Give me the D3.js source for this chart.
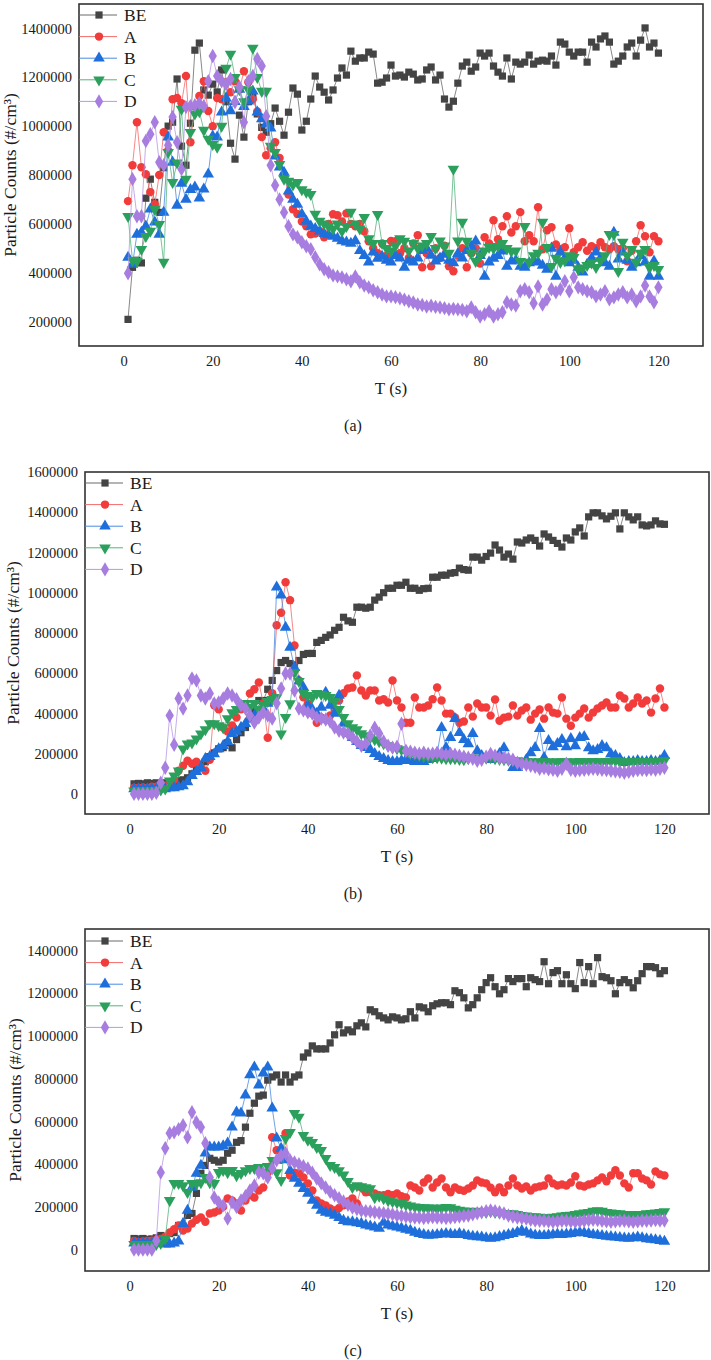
<!DOCTYPE html>
<html>
<head>
<meta charset="utf-8">
<script src="https://cdn.jsdelivr.net/npm/d3@7"></script>
<style>
  body { margin: 0; background: #fff; }
  text { font-family: "Liberation Serif", "Times New Roman", serif; fill: #1a1a1a; }
</style>
</head>
<body>
<svg id="chart" width="711" height="1360"></svg>
<script>
// time axis, one sample per second
const seconds = d3.range(1, 121);
const seriesNames = ["BE", "A", "B", "C", "D"];

// particle counts, in thousands of #/cm3
// ---- panel (a)
const aBE = [209,422,451,440,705,783,688,647,830,1000,1016,1193,918,840,1012,1311,1340,1148,1127,1172,1140,1230,1100,930,865,1045,955,1100,1130,1050,995,975,1010,1074,1020,963,1057,1156,1131,984,1020,1111,1205,1160,1139,1107,1148,1197,1238,1209,1307,1266,1279,1279,1303,1295,1176,1180,1197,1250,1205,1209,1201,1221,1213,1189,1193,1230,1242,1189,1209,1111,1078,1102,1176,1246,1262,1225,1242,1299,1287,1299,1246,1221,1205,1279,1193,1262,1254,1262,1291,1254,1266,1270,1266,1287,1250,1344,1336,1303,1287,1303,1303,1262,1344,1324,1357,1369,1344,1254,1266,1287,1324,1340,1287,1352,1402,1324,1340,1299];
const aA = [693,840,1016,832,803,730,680,800,975,900,1110,1115,1094,1205,934,1080,1123,1184,1062,1000,1115,1110,1180,1139,1184,1150,1225,1180,1110,1060,955,881,910,934,870,800,720,660,640,610,590,557,560,570,545,600,639,635,610,643,600,590,600,570,529,500,480,520,470,530,529,480,500,460,520,553,422,480,426,500,460,510,426,406,470,500,422,480,500,438,545,520,615,537,590,631,565,590,648,529,553,529,668,496,574,586,516,496,504,582,484,504,525,490,508,500,525,504,496,508,496,500,447,490,529,594,549,484,549,529];
const aB = [463,434,557,565,590,660,607,557,647,955,852,676,766,700,740,750,705,742,803,959,955,1057,1115,1062,1100,1150,1080,1102,1143,1057,1030,1008,992,877,832,811,734,700,680,640,610,590,580,570,560,555,549,540,530,525,520,530,490,470,443,484,459,467,450,443,470,460,422,450,443,460,490,500,471,447,460,475,450,440,478,460,490,508,529,470,385,443,459,470,488,426,447,450,426,422,440,450,443,430,414,500,385,484,460,440,450,422,402,434,460,484,460,440,426,565,455,484,450,422,440,470,443,385,447,385];
const aC = [631,451,447,496,549,570,660,598,443,893,770,850,1070,783,975,1050,1060,984,947,926,914,1000,1238,1295,1200,1150,1100,1150,1320,1200,1143,1143,918,893,844,783,775,760,770,740,730,721,640,611,600,590,580,600,570,590,648,600,580,627,540,520,639,520,500,490,510,540,529,490,520,500,510,520,549,500,530,510,480,824,530,607,529,480,447,470,490,504,500,508,520,500,488,490,447,590,443,470,480,607,504,426,460,443,450,470,463,414,420,430,440,422,450,470,557,557,406,525,470,496,443,480,496,422,430,414];
const aD = [398,783,631,631,939,967,1016,852,840,922,1037,934,824,1078,1082,1086,1094,1082,1184,1287,1205,1184,1172,1193,1098,1160,1016,1184,1205,1275,1246,1041,840,758,700,647,590,557,545,525,508,496,463,434,414,402,389,385,381,373,365,385,361,348,340,328,320,311,303,303,300,295,290,283,278,270,268,262,265,260,258,255,250,252,250,248,242,258,238,221,230,242,221,230,238,279,270,266,324,332,320,275,344,270,291,332,320,332,365,324,381,340,332,324,320,303,311,324,291,299,311,320,299,311,283,303,348,303,279,340];

// ---- panel (b)
const bBE = [50,52,50,55,52,55,50,55,58,60,65,70,80,100,120,140,160,185,204,224,230,254,229,270,304,330,380,420,464,464,520,564,613,653,663,648,640,663,693,698,698,753,763,778,790,813,828,878,860,853,928,928,923,928,963,978,1000,1022,1022,1037,1037,1052,1022,1022,1012,1020,1022,1077,1077,1087,1087,1097,1100,1122,1115,1112,1177,1177,1162,1180,1197,1237,1212,1177,1192,1167,1252,1247,1262,1272,1260,1232,1292,1277,1260,1245,1227,1272,1262,1302,1322,1282,1377,1397,1397,1382,1367,1380,1397,1317,1397,1377,1362,1377,1337,1332,1337,1357,1342,1340];
const bA = [30,30,32,30,35,35,40,40,50,70,115,140,165,150,160,130,115,170,440,420,330,310,340,380,420,439,499,520,554,450,279,500,838,900,1052,963,738,564,480,449,400,354,380,370,390,420,464,500,524,529,589,514,489,514,514,464,470,454,564,464,429,354,354,479,429,429,439,470,529,464,399,399,380,354,360,429,384,449,429,429,389,469,364,379,384,439,389,414,429,369,399,419,374,429,404,399,479,374,339,379,399,424,379,404,424,439,454,429,429,489,474,429,449,479,449,464,404,474,524,429];
const bB = [25,25,25,25,25,25,25,25,30,30,35,40,60,90,110,130,175,185,199,224,240,260,299,310,330,349,370,390,410,424,450,470,1027,988,828,728,628,560,529,440,420,400,430,504,440,400,489,350,299,280,260,240,230,220,200,185,175,165,160,160,165,170,165,160,165,160,170,175,200,329,230,280,374,304,270,249,299,214,190,175,170,180,200,229,170,130,130,150,170,204,230,324,180,264,234,250,269,234,274,239,279,284,229,214,220,239,229,199,190,175,155,160,160,165,160,160,165,160,165,190];
const bC = [15,15,15,15,15,18,20,25,65,90,115,224,249,254,274,299,320,349,349,340,329,374,404,420,440,450,430,450,420,440,460,470,480,299,380,449,603,560,500,490,480,500,495,490,480,460,420,380,349,330,320,300,290,280,270,260,250,240,230,225,220,210,200,195,190,185,185,180,180,178,175,175,175,172,170,175,180,170,175,178,180,175,172,170,168,165,165,162,160,160,158,160,160,160,158,160,160,160,158,160,162,160,160,162,160,160,162,163,165,160,158,160,160,160,162,160,160,162,163,165];
const bD = [0,0,0,0,0,5,55,130,389,244,474,424,489,574,564,489,474,499,449,454,474,499,489,470,440,424,390,354,380,404,390,374,450,524,598,598,514,424,415,405,399,379,375,370,360,330,314,305,299,280,260,239,250,290,329,300,260,239,230,235,349,214,210,205,200,205,199,200,205,200,195,200,195,190,185,180,175,165,170,185,199,190,180,178,175,170,155,150,145,140,135,125,128,122,120,115,125,150,120,115,118,120,122,125,122,120,118,115,112,110,105,110,115,118,120,118,122,120,125,130];

// ---- panel (c)
const cBE = [52,50,52,48,50,55,66,60,75,80,113,110,160,169,263,357,394,427,418,410,418,451,465,502,510,573,638,685,718,723,793,808,817,784,817,784,808,817,901,920,953,939,939,939,967,1005,1052,1014,1028,1019,1047,1061,1042,1122,1113,1094,1084,1075,1089,1084,1075,1080,1113,1084,1136,1131,1113,1141,1150,1155,1155,1146,1211,1202,1178,1131,1146,1178,1216,1249,1272,1230,1197,1216,1268,1254,1268,1268,1230,1272,1263,1254,1347,1244,1296,1305,1244,1286,1244,1221,1343,1249,1324,1244,1366,1277,1272,1258,1197,1249,1263,1249,1225,1258,1291,1324,1324,1319,1291,1305];
const cA = [40,35,38,40,42,45,50,60,80,95,113,89,99,122,140,150,130,169,174,183,200,239,230,216,183,230,254,244,277,291,361,526,465,420,545,347,360,357,338,310,277,230,216,207,192,183,195,207,225,239,216,291,268,270,263,255,254,260,255,263,250,244,300,291,277,314,333,291,314,333,291,268,291,280,275,286,300,324,314,310,290,268,291,268,300,333,300,286,295,277,291,295,300,333,310,300,305,300,314,343,300,295,305,310,324,338,320,347,371,347,310,291,357,357,333,324,305,366,352,347];
const cB = [30,30,30,30,30,30,30,25,25,30,40,122,183,291,357,394,451,479,479,479,485,498,573,643,638,723,817,854,770,826,854,662,521,474,420,370,333,310,285,263,230,207,183,174,169,160,150,136,130,130,125,122,115,110,105,99,127,115,110,105,100,95,90,80,75,70,66,68,70,72,75,72,70,75,70,65,62,60,58,55,52,55,60,65,70,75,82,89,80,72,68,65,65,68,70,72,70,72,75,78,80,78,75,70,68,65,62,60,58,56,54,52,55,58,55,50,48,45,42,38];
const cC = [25,25,25,25,25,25,30,50,230,310,310,300,268,310,310,314,338,314,310,361,371,361,371,347,357,370,380,380,385,361,390,418,360,324,521,549,638,620,535,512,502,479,465,427,394,385,370,350,320,291,300,295,290,286,244,250,239,230,225,220,216,210,205,200,198,197,195,195,192,195,198,197,190,185,182,180,178,180,178,175,178,175,172,170,170,169,165,160,158,155,155,152,150,150,152,155,158,160,162,165,169,172,175,180,183,180,175,172,170,168,165,165,162,165,165,168,170,172,175,178];
const cD = [0,0,0,0,0,42,361,474,545,549,563,582,526,643,596,573,498,338,244,221,207,146,221,200,230,250,277,300,361,357,338,380,418,440,451,418,408,400,390,380,360,333,310,291,270,254,240,225,210,197,190,183,180,178,175,172,170,168,165,160,158,155,152,150,150,148,150,152,150,150,148,150,152,155,158,160,165,170,175,180,183,180,175,169,160,155,150,148,145,140,136,135,135,132,130,132,135,135,132,130,132,135,138,140,138,135,132,130,132,135,135,132,130,132,135,135,136,138,136,136];

const xTicks = [0, 20, 40, 60, 80, 100, 120];
const yTicksA = [200000, 400000, 600000, 800000, 1000000, 1200000, 1400000];
const yTicksB = [0, 200000, 400000, 600000, 800000, 1000000, 1200000, 1400000, 1600000];
const yTicksC = [0, 200000, 400000, 600000, 800000, 1000000, 1200000, 1400000];
const captions = ["(a)", "(b)", "(c)"];

// look of each series
const styles = [
    { fill: "#444444", line: "#6a6a6a", symbol: d3.symbolSquare, size: 52, rot: 0 },
    { fill: "#f23b3b", line: "#f26a6a", symbol: d3.symbolCircle, size: 56, rot: 0 },
    { fill: "#1e6fdc", line: "#4a8ae0", symbol: d3.symbolTriangle, size: 58, rot: 0 },
    { fill: "#2ba05c", line: "#55b57d", symbol: d3.symbolTriangle, size: 58, rot: 180 },
    { fill: "#a77de0", line: "#b897e6", symbol: d3.symbolDiamond, size: 60, rot: 0 }
];

const panels = [
    { data: [aBE, aA, aB, aC, aD], yDomain: [100000, 1500000], yTicks: yTicksA,
      left: 79, right: 703, top: 4, bottom: 346, titleX: 10, legendTop: 15, captionY: 425 },
    { data: [bBE, bA, bB, bC, bD], yDomain: [-100000, 1600000], yTicks: yTicksB,
      left: 85, right: 709, top: 472, bottom: 814, titleX: 13, legendTop: 483, captionY: 893 },
    { data: [cBE, cA, cB, cC, cD], yDomain: [-100000, 1500000], yTicks: yTicksC,
      left: 85, right: 709, top: 929, bottom: 1271, titleX: 15, legendTop: 941, captionY: 1350 }
];

const svg = d3.select("#chart");
svg.append("rect").attr("width", 711).attr("height", 1360).attr("fill", "#fff");

panels.forEach(function (p, pi)
{
    var g = svg.append("g");
    var x = d3.scaleLinear().domain([-10, 130]).range([p.left, p.right]);
    var y = d3.scaleLinear().domain(p.yDomain).range([p.bottom, p.top]);

    // y axis labels
    var ya = g.append("g")
        .attr("transform", "translate(" + p.left + ",0)")
        .call(d3.axisLeft(y).tickValues(p.yTicks).tickSize(0).tickPadding(7).tickFormat(d3.format("d")));
    ya.select(".domain").remove();
    ya.selectAll("text").attr("font-family", null).style("font-size", "14.5px").attr("fill", "#1a1a1a");

    // x axis labels
    var xa = g.append("g")
        .attr("transform", "translate(0," + p.bottom + ")")
        .call(d3.axisBottom(x).tickValues(xTicks).tickSize(0).tickPadding(10));
    xa.select(".domain").remove();
    xa.selectAll("text").attr("font-family", null).style("font-size", "14.5px").attr("fill", "#1a1a1a");

    // series: line then markers
    p.data.forEach(function (vals, si)
    {
        var st = styles[si];
        var pts = vals.map(function (v, i) { return { t: seconds[i], v: v * 1000 }; });
        var line = d3.line()
            .x(function (d) { return x(d.t); })
            .y(function (d) { return y(d.v); });
        g.append("path")
            .datum(pts)
            .attr("fill", "none")
            .attr("stroke", st.line)
            .attr("stroke-width", 0.8)
            .attr("d", line);
        g.append("g").selectAll("path")
            .data(pts)
            .enter().append("path")
            .attr("d", d3.symbol().type(st.symbol).size(st.size))
            .attr("fill", st.fill)
            .attr("transform", function (d) { return "translate(" + x(d.t) + "," + y(d.v) + ") rotate(" + st.rot + ")"; });
    });

    // frame
    g.append("rect")
        .attr("x", p.left).attr("y", p.top)
        .attr("width", p.right - p.left).attr("height", p.bottom - p.top)
        .attr("fill", "none").attr("stroke", "#333").attr("stroke-width", 1.6);

    // legend
    var lg = g.append("g");
    seriesNames.forEach(function (name, si)
    {
        var st = styles[si];
        var ly = p.legendTop + si * 21.6;
        lg.append("line")
            .attr("x1", p.left).attr("x2", p.left + 38)
            .attr("y1", ly).attr("y2", ly)
            .attr("stroke", st.line).attr("stroke-width", 1);
        lg.append("path")
            .attr("d", d3.symbol().type(st.symbol).size(st.size)())
            .attr("fill", st.fill)
            .attr("transform", "translate(" + (p.left + 20) + "," + ly + ") rotate(" + st.rot + ")");
        lg.append("text")
            .attr("x", p.left + 45).attr("y", ly)
            .attr("dominant-baseline", "central")
            .style("font-size", "17.5px")
            .text(name);
    });

    // axis titles
    g.append("text")
        .attr("transform", "translate(" + p.titleX + "," + ((p.top + p.bottom) / 2) + ") rotate(-90)")
        .attr("text-anchor", "middle")
        .attr("dominant-baseline", "central")
        .style("font-size", "17.5px")
        .text("Particle Counts (#/cm³)");
    g.append("text")
        .attr("x", (p.left + p.right) / 2).attr("y", p.bottom + 42)
        .attr("text-anchor", "middle")
        .attr("dominant-baseline", "central")
        .style("font-size", "17px")
        .text("T (s)");
    g.append("text")
        .attr("x", 353).attr("y", p.captionY)
        .attr("text-anchor", "middle")
        .attr("dominant-baseline", "central")
        .style("font-size", "16px")
        .text(captions[pi]);
});
</script>
</body>
</html>
